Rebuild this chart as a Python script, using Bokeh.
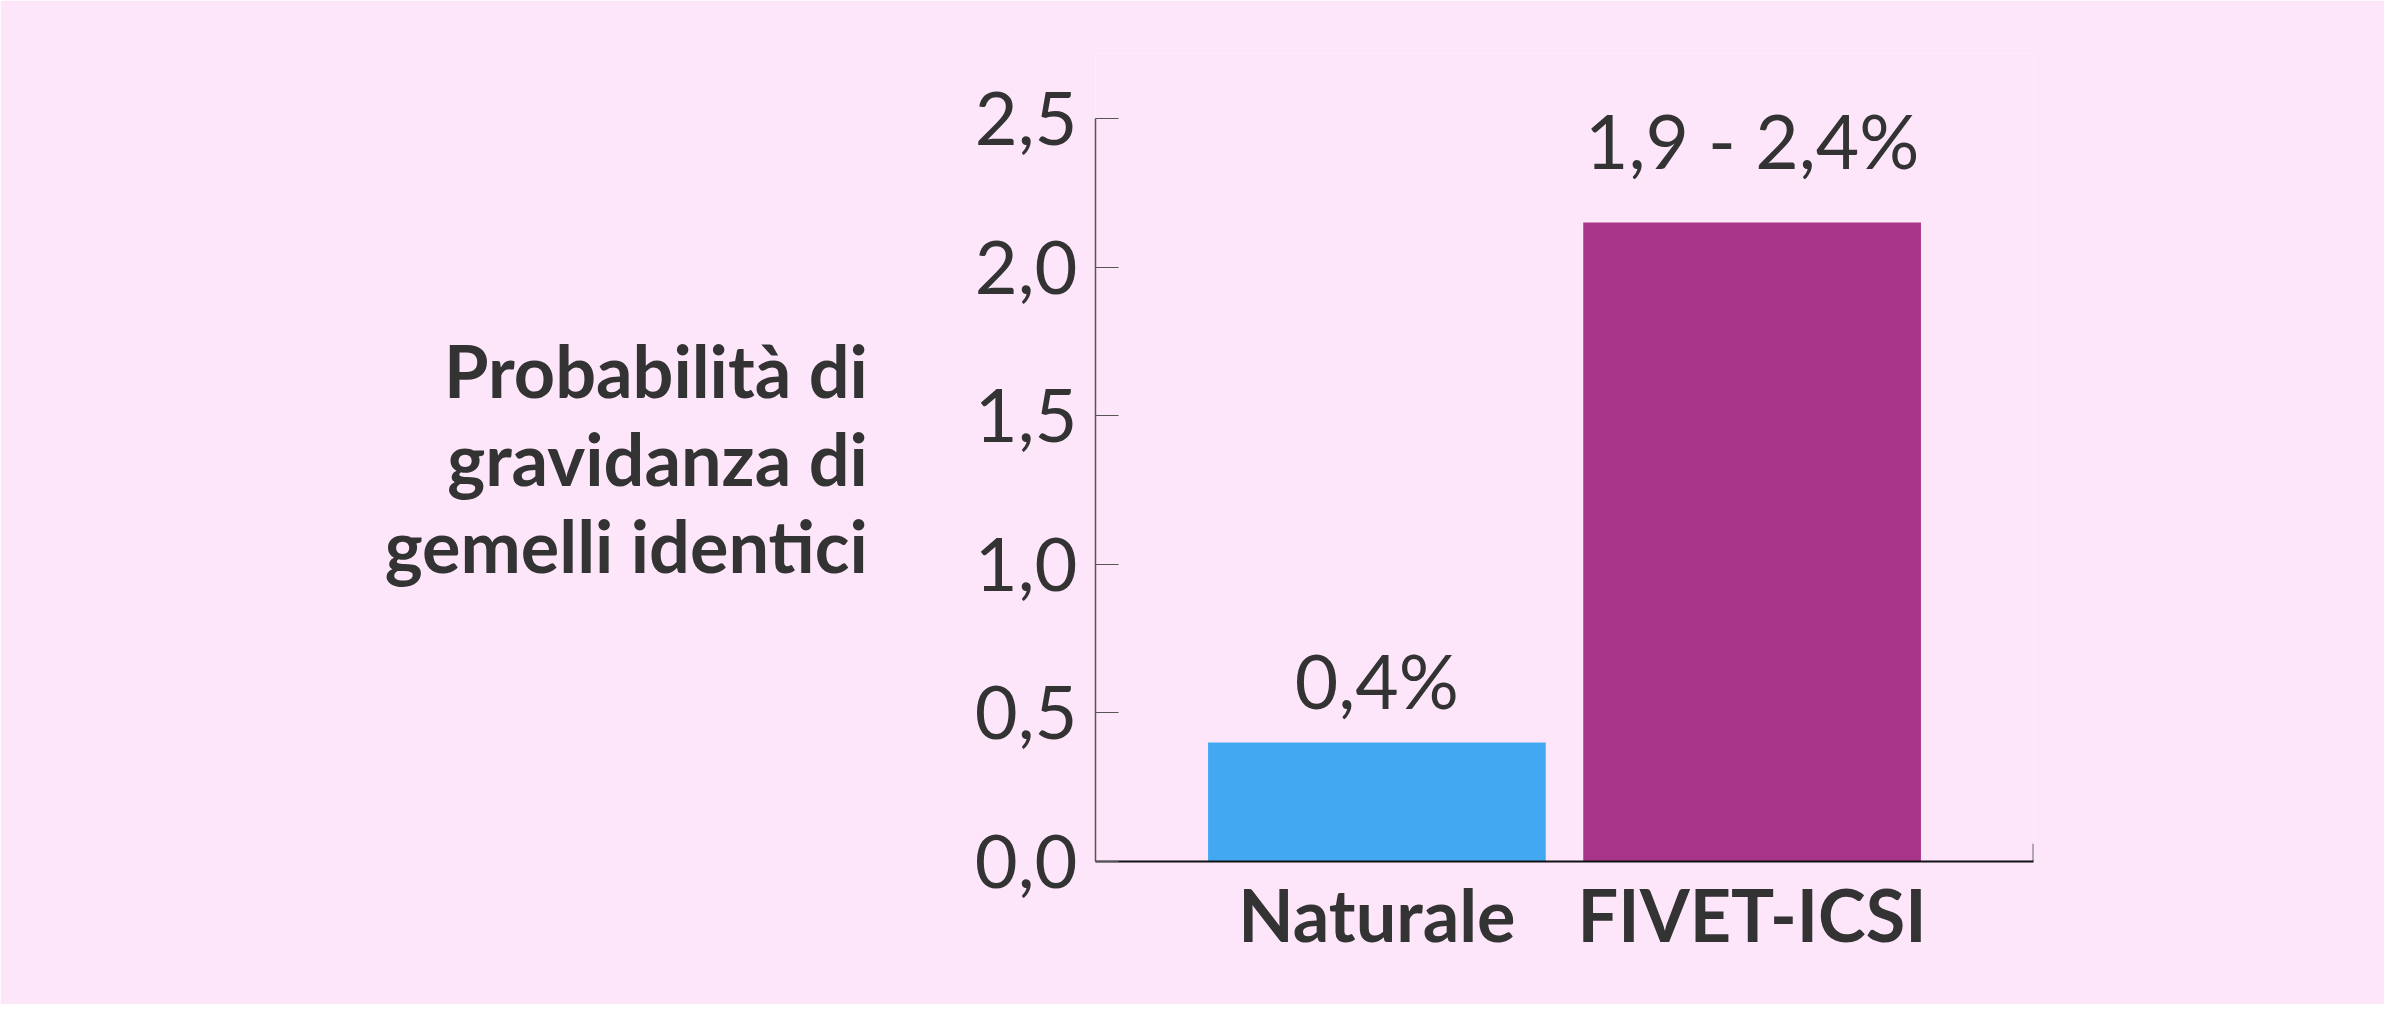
from bokeh.plotting import figure
from bokeh.models import FactorRange, Range1d, FixedTicker, ColumnDataSource
from bokeh.embed import file_html
from bokeh.resources import INLINE
from bokeh.core.properties import value

# ---- data ----
categories = ["Naturale", "FIVET-ICSI"]
values = [0.4, 2.15]
value_labels = ["0,4%", "1,9 - 2,4%"]
bar_colors = ["#42A8F2", "#A73488"]
y_ticks = [0.0, 0.5, 1.0, 1.5, 2.0, 2.5]
y_tick_labels = ["0,0", "0,5", "1,0", "1,5", "2,0", "2,5"]
title_text = "Probabilità di\ngravidanza di\ngemelli identici"

BG = "#FEE6FA"
TXT = "#333333"
FONT = "Lato"

W, H = 2384, 1004
pad = 0.25
y_max = y_ticks[-1]
# frame extends above the axis top so that labels above bars are not clipped
px_per_unit = (861 - 118) / y_max
extra_top = (118 - 53) / px_per_unit

p = figure(
    x_range=FactorRange(*categories, range_padding=pad, range_padding_units="absolute"),
    y_range=Range1d(0, y_max + extra_top),
    width=W, height=H,
    output_backend="svg", toolbar_location=None,
    min_border_left=1095, min_border_right=351,
    min_border_top=53, min_border_bottom=143,
)
p.background_fill_color = BG
p.border_fill_color = BG
p.outline_line_color = None
p.xgrid.grid_line_color = None
p.ygrid.grid_line_color = None

src = ColumnDataSource(dict(cat=categories, val=values, lab=value_labels, col=bar_colors))
p.vbar(x="cat", top="val", width=0.9, source=src, fill_color="col", line_color=None)

# value labels
offsets = [18, 38]
for i in range(len(categories)):
    s = ColumnDataSource(dict(cat=[categories[i]], val=[values[i]], lab=[value_labels[i]]))
    p.text(x="cat", y="val", text="lab", source=s, text_align="center",
           text_baseline="bottom", y_offset=-offsets[i],
           text_font=value(FONT), text_font_size="75px", text_color=TXT)

# y axis
yax = p.yaxis[0]
yax.bounds = (0, y_max)
yax.ticker = FixedTicker(ticks=y_ticks)
yax.major_label_overrides = {t: l for t, l in zip(y_ticks, y_tick_labels)}
yax.major_tick_in = 23
yax.major_tick_out = 0
yax.minor_tick_line_color = None
yax.major_tick_line_color = "#555555"
yax.axis_line_color = "#555555"
yax.axis_line_width = 1.5
yax.major_label_standoff = 18
yax.major_label_text_font = FONT
yax.major_label_text_font_size = "74px"
yax.major_label_text_color = TXT
# left-hand title as a horizontal axis label
yax.axis_label = title_text
yax.axis_label_orientation = "horizontal"
yax.axis_label_standoff = 104
yax.axis_label_text_font = FONT
yax.axis_label_text_font_style = "bold"
yax.axis_label_text_font_size = "72px"
yax.axis_label_text_color = TXT
yax.axis_label_text_align = "center"
yax.axis_label_text_line_height = 1.02

# x axis
xax = p.xaxis[0]
xax.major_tick_line_color = None
xax.minor_tick_line_color = None
xax.axis_line_color = "#111111"
xax.axis_line_width = 2
xax.major_label_standoff = 3
xax.major_label_text_font = FONT
xax.major_label_text_font_style = "bold"
xax.major_label_text_font_size = "72px"
xax.major_label_text_color = TXT

# end tick of x axis
x_end = len(categories) + pad
p.segment(x0=[x_end], y0=[0], x1=[x_end], y1=[0.06], line_color="#666666", line_width=2)

open("out.html", "w").write(file_html(p, INLINE))
